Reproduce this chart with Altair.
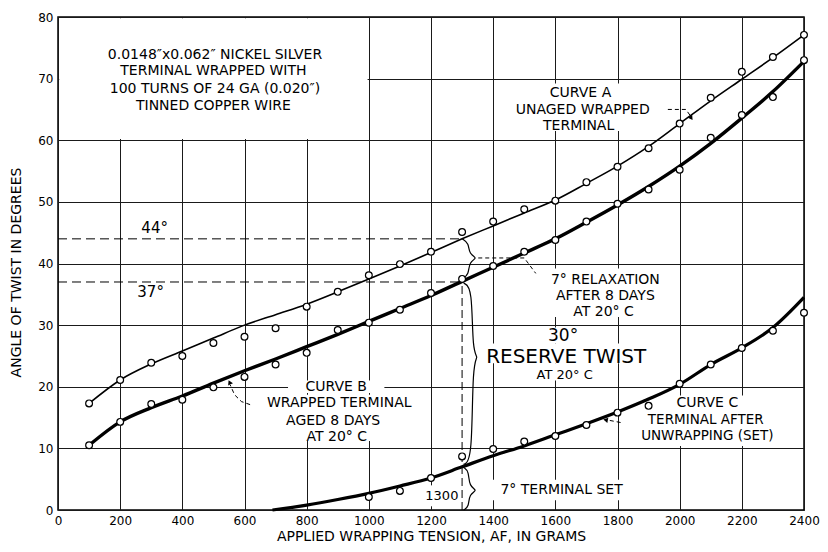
import altair as alt
import pandas as pd

FONT = "DejaVu Sans"

# ---------------- data ----------------
x_ticks = [0, 200, 400, 600, 800, 1000, 1200, 1400, 1600, 1800, 2000, 2200, 2400]
y_ticks = [0, 10, 20, 30, 40, 50, 60, 70, 80]

# measured points (open circles)
tension_ab = [100, 200, 300, 400, 500, 600, 700, 800, 900, 1000, 1100, 1200,
              1300, 1400, 1500, 1600, 1700, 1800, 1900, 2000, 2100, 2200, 2300, 2400]
curve_a_pts = [17.3, 21.1, 23.9, 25.0, 27.1, 28.1, 29.5, 33.0, 35.4, 38.1, 39.9, 41.9,
               45.1, 46.8, 48.8, 50.2, 53.2, 55.7, 58.7, 62.7, 66.9, 71.1, 73.5, 77.1]
curve_b_pts = [10.5, 14.3, 17.2, 17.9, 19.9, 21.6, 23.6, 25.5, 29.2, 30.4, 32.5, 35.2,
               37.5, 39.6, 41.9, 43.8, 46.8, 49.7, 52.0, 55.2, 60.4, 64.1, 67.0, 73.0]
tension_c = [1000, 1100, 1200, 1300, 1400, 1500, 1600, 1700, 1800, 1900, 2000, 2100, 2200, 2300, 2400]
curve_c_pts = [2.1, 3.1, 5.2, 8.7, 9.9, 11.1, 12.0, 13.8, 15.8, 16.9, 20.5, 23.6, 26.3, 29.1, 32.0]

# faired curves as drawn
line_x_ab = tension_ab
curve_a_line = [17.3, 21.1, 23.7, 25.8, 27.9, 30.0, 31.7, 33.4, 35.4, 37.5, 39.6, 41.8,
                44.0, 46.1, 48.2, 50.3, 53.0, 55.8, 59.0, 62.7, 66.4, 69.9, 73.4, 77.1]
curve_b_line = [10.5, 14.3, 16.6, 18.5, 20.6, 22.6, 24.5, 26.5, 28.5, 30.6, 32.7, 34.8,
                37.1, 39.4, 41.7, 44.0, 46.7, 49.5, 52.5, 55.8, 59.5, 63.6, 67.9, 72.8]
line_x_c = [690, 800, 900, 1000, 1100, 1200, 1300, 1400, 1500, 1600, 1700, 1800,
            1900, 2000, 2100, 2200, 2300, 2400]
curve_c_line = [0.0, 0.8, 1.7, 2.7, 3.9, 5.2, 7.0, 8.8, 10.4, 12.2, 14.0, 15.9,
                18.0, 20.4, 23.6, 26.3, 29.6, 34.5]

# dashed construction lines
ref_h_y = [44, 37]
ref_h_x0 = [0, 0]
ref_h_x1 = [1300, 1300]
ref_v_x = [1300]
ref_v_y0 = [0]
ref_v_y1 = [37]

# braces (solid) : id, x, y
brace_id = ["relax"] * 7 + ["reserve"] * 7 + ["set"] * 7
brace_x = [1300, 1322, 1322, 1352, 1322, 1322, 1300,
           1305, 1333, 1333, 1354, 1333, 1333, 1305,
           1305, 1322, 1322, 1352, 1322, 1322, 1305]
brace_y = [44.0, 43.3, 41.5, 40.9, 40.3, 38.2, 37.5,
           36.8, 36.2, 25.5, 24.8, 24.1, 8.0, 7.4,
           6.9, 6.3, 3.8, 3.2, 2.6, 0.5, 0.0]

# leaders (dashed)
leader_id = ["relax"] * 3 + ["a"] * 3 + ["b"] * 4 + ["c"] * 2
leader_x = [1352, 1500, 1537,
            1962, 2020, 2034,
            618, 590, 568, 554,
            1810, 1768]
leader_y = [40.9, 40.9, 38.4,
            65.0, 65.0, 64.0,
            17.1, 17.6, 18.7, 20.3,
            14.2, 14.6]
arrow_x = [2036, 553, 1764]
arrow_y = [63.7, 20.6, 14.6]
arrow_angle = [146, 335, 280]

# white backgrounds behind the lettering
mask_x = [4, 1420, 1540, 1540, 1370, 1510, 740, 615, 1805, 1370, 1190]
mask_x2 = [996, 1960, 1985, 1710, 1900, 1755, 1050, 1195, 2370, 1870, 1288]
mask_y = [60.2, 61.5, 31.3, 27.0, 23.8, 21.0, 19.0, 11.2, 10.4, 1.6, 0.6]
mask_y2 = [79.8, 69.2, 39.2, 29.6, 27.0, 23.8, 21.0, 18.7, 18.6, 4.9, 4.0]

# lettering
label_text = [
    "0.0148\u2033x0.062\u2033 NICKEL SILVER", "TERMINAL WRAPPED WITH",
    "100 TURNS OF 24 GA (0.020\u2033)", "TINNED COPPER WIRE",
    "CURVE A", "UNAGED WRAPPED", "TERMINAL",
    "44\u00b0", "37\u00b0",
    "7\u00b0 RELAXATION", "AFTER 8 DAYS", "AT 20\u00b0 C",
    "30\u00b0", "RESERVE TWIST", "AT 20\u00b0 C",
    "CURVE B", "WRAPPED TERMINAL", "AGED 8 DAYS", "AT 20\u00b0 C",
    "CURVE C", "TERMINAL AFTER", "UNWRAPPING (SET)",
    "7\u00b0 TERMINAL SET", "1300",
]
label_x = [505, 500, 505, 500,
           1681, 1688, 1675,
           311, 298,
           1761, 1761, 1755,
           1625, 1635, 1630,
           895, 905, 885, 897,
           2089, 2084, 2089,
           1620, 1235]
label_y = [73.9, 71.25, 68.3, 65.6,
           67.7, 64.9, 62.3,
           45.8, 35.4,
           37.3, 34.7, 32.2,
           28.3, 24.8, 21.9,
           19.9, 17.3, 14.4, 11.8,
           17.4, 14.65, 12.05,
           3.2, 2.2]
label_size = [14, 14, 14, 14,
              14, 14, 14,
              15, 15,
              14, 14, 14,
              17, 20, 13,
              14, 14, 14, 14,
              14, 13.5, 13.5,
              14, 13]

# ---------------- build chart ----------------
x_scale = alt.Scale(domain=[0, 2400], nice=False, zero=False)
y_scale = alt.Scale(domain=[0, 80], nice=False, zero=False)

x_axis = alt.Axis(values=x_ticks, format="d", grid=True, gridColor="#1a1a1a", gridWidth=1,
                  domain=False, ticks=False, labelFlush=False,
                  labelFont=FONT, labelFontSize=12, labelColor="black", labelPadding=5,
                  title="APPLIED WRAPPING TENSION, AF, IN GRAMS",
                  titleFont=FONT, titleFontSize=14, titleFontWeight="normal",
                  titleColor="black", titleY=19, titleBaseline="top")
y_axis = alt.Axis(values=y_ticks, format="d", grid=True, gridColor="#1a1a1a", gridWidth=1,
                  domain=False, ticks=False, labelFlush=False,
                  labelFont=FONT, labelFontSize=12, labelColor="black", labelPadding=5,
                  title="ANGLE OF TWIST IN DEGREES",
                  titleFont=FONT, titleFontSize=14, titleFontWeight="normal",
                  titleColor="black", titleX=-42, titleY=255, titleAngle=270,
                  titleAlign="center", titleBaseline="middle")


def X(f="x"):
    return alt.X(f"{f}:Q", scale=x_scale, axis=x_axis)


def Y(f="y"):
    return alt.Y(f"{f}:Q", scale=y_scale, axis=y_axis)


masks = pd.DataFrame({"x": mask_x, "x2": mask_x2, "y": mask_y, "y2": mask_y2})
mask_layer = alt.Chart(masks).mark_rect(color="white", fill="white").encode(
    x=X(), x2="x2:Q", y=Y(), y2="y2:Q")

ref_h = pd.DataFrame({"x": ref_h_x0, "x2": ref_h_x1, "y": ref_h_y})
ref_h_layer = alt.Chart(ref_h).mark_rule(color="black", strokeWidth=1, strokeDash=[9, 5]).encode(
    x=X(), x2="x2:Q", y=Y())
ref_v = pd.DataFrame({"x": ref_v_x, "y": ref_v_y0, "y2": ref_v_y1})
ref_v_layer = alt.Chart(ref_v).mark_rule(color="black", strokeWidth=1, strokeDash=[8, 4]).encode(
    x=X(), y=Y(), y2="y2:Q")

a_line = pd.DataFrame({"x": line_x_ab, "y": curve_a_line})
b_line = pd.DataFrame({"x": line_x_ab, "y": curve_b_line})
c_line = pd.DataFrame({"x": line_x_c, "y": curve_c_line})
a_line_layer = alt.Chart(a_line).mark_line(color="black", strokeWidth=1.6, interpolate="monotone").encode(
    x=X(), y=Y())
b_line_layer = alt.Chart(b_line).mark_line(color="black", strokeWidth=3.4, interpolate="monotone").encode(
    x=X(), y=Y())
c_line_layer = alt.Chart(c_line).mark_line(color="black", strokeWidth=3.2, interpolate="monotone").encode(
    x=X(), y=Y())

braces = pd.DataFrame({"id": brace_id, "x": brace_x, "y": brace_y,
                       "o": list(range(len(brace_x)))})
brace_layer = alt.Chart(braces).mark_line(color="black", strokeWidth=1.2, interpolate="basis").encode(
    x=X(), y=Y(), detail="id:N", order="o:Q")

leaders = pd.DataFrame({"id": leader_id, "x": leader_x, "y": leader_y,
                        "o": list(range(len(leader_x)))})
leader_layer = alt.Chart(leaders).mark_line(color="black", strokeWidth=1, strokeDash=[4, 3]).encode(
    x=X(), y=Y(), detail="id:N", order="o:Q")

arrows = pd.DataFrame({"x": arrow_x, "y": arrow_y, "a": arrow_angle})
arrow_layer = alt.Chart(arrows).mark_point(shape="triangle", filled=True, color="black",
                                           size=28, opacity=1).encode(
    x=X(), y=Y(), angle=alt.Angle("a:Q", scale=None))

pts = pd.DataFrame({
    "x": tension_ab + tension_ab + tension_c,
    "y": curve_a_pts + curve_b_pts + curve_c_pts,
})
pts_layer = alt.Chart(pts).mark_point(shape="circle", filled=True, fill="white", stroke="black",
                                      strokeWidth=1.2, size=46, opacity=1).encode(
    x=X(), y=Y())

labels = pd.DataFrame({"x": label_x, "y": label_y, "t": label_text, "s": label_size})
label_layer = alt.Chart(labels).mark_text(font=FONT, color="black", align="center",
                                          baseline="middle").encode(
    x=X(), y=Y(), text="t:N", size=alt.Size("s:Q", scale=None))

chart = alt.layer(
    mask_layer, ref_h_layer, ref_v_layer,
    a_line_layer, b_line_layer, c_line_layer,
    brace_layer, leader_layer, arrow_layer, pts_layer, label_layer,
).properties(
    width=746, height=493,
    autosize=alt.AutoSizeParams(type="none"),
    padding={"left": 50, "top": 9, "right": 16, "bottom": 34},
    background="white",
).configure_view(stroke="black", strokeWidth=1.5)

chart.save("out.html", embed_options={"renderer": "svg", "actions": False})
